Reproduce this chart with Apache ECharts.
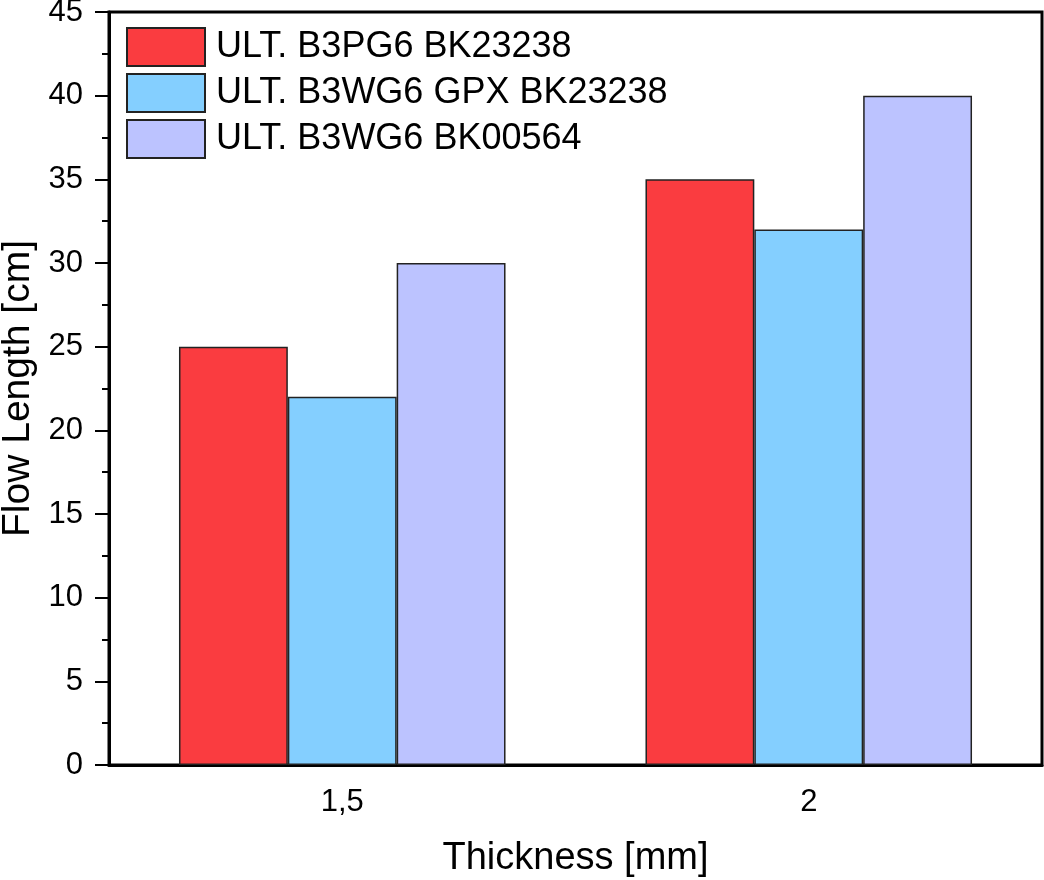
<!DOCTYPE html>
<html>
<head>
<meta charset="utf-8">
<script src="https://cdn.jsdelivr.net/npm/echarts@6/dist/echarts.min.js"></script>
<style>
  html, body { margin: 0; padding: 0; background: #fff; }
  #chart { width: 1044px; height: 880px; }
</style>
</head>
<body>
<div id="chart"></div>
<script>
var categories = ['1,5', '2'];
var seriesNames = ['ULT. B3PG6 BK23238', 'ULT. B3WG6 GPX BK23238', 'ULT. B3WG6 BK00564'];
var valuesB3PG6 = [25, 35];
var valuesB3WG6GPX = [22, 32];
var valuesB3WG6 = [30, 40];
var seriesColors = ['#FA3C40', '#84CFFF', '#BCC3FF'];

var font = 'Liberation Sans, Arial, sans-serif';
var chart = echarts.init(document.getElementById('chart'));

function bar(name, data, color) {
    return {
        name: name,
        type: 'bar',
        xAxisIndex: 0,
        data: data,
        barGap: '0%',
        barCategoryGap: '30%',
        itemStyle: { color: color, borderColor: '#222', borderWidth: 1.5 }
    };
}

chart.setOption({
    animation: false,
    textStyle: { fontFamily: font },
    grid: {
        left: 109, right: 2, top: 12, bottom: 115,
        outerBoundsMode: 'none',
        containLabel: false,
        show: true, borderColor: '#000', borderWidth: 3, backgroundColor: 'transparent'
    },
    legend: {
        left: 126, top: 27,
        padding: 0,
        orient: 'vertical',
        itemWidth: 78, itemHeight: 38, itemGap: 6,
        icon: 'rect',
        textStyle: { fontSize: 36, color: '#000', fontFamily: font, padding: [2, 0, 0, 6] }
    },
    xAxis: [{
        type: 'category',
        data: categories,
        name: 'Thickness [mm]',
        nameLocation: 'middle',
        nameGap: 75,
        nameTextStyle: { fontSize: 38, color: '#000', fontFamily: font },
        axisLine: { lineStyle: { color: '#000', width: 3 } },
        axisTick: { alignWithLabel: true, length: 13, lineStyle: { color: '#000', width: 3 } },
        axisLabel: { fontSize: 31, color: '#000', margin: 22, fontFamily: font }
    }, {
        type: 'category',
        data: categories,
        position: 'bottom',
        axisLine: { show: false },
        axisTick: { alignWithLabel: false, length: 7, lineStyle: { color: '#000', width: 2 } },
        axisLabel: { show: false }
    }],
    yAxis: {
        type: 'value',
        min: 0, max: 45, interval: 5,
        name: 'Flow Length [cm]',
        nameLocation: 'middle',
        nameGap: 70,
        nameTextStyle: { fontSize: 39, color: '#000', fontFamily: font },
        axisLine: { show: true, lineStyle: { color: '#000', width: 3 } },
        axisTick: { show: true, length: 14, lineStyle: { color: '#000', width: 2 } },
        minorTick: { show: true, splitNumber: 2, length: 7, lineStyle: { color: '#000', width: 2 } },
        splitLine: { show: false },
        axisLabel: { fontSize: 31, color: '#000', margin: 26, fontFamily: font }
    },
    series: [
        bar(seriesNames[0], valuesB3PG6, seriesColors[0]),
        bar(seriesNames[1], valuesB3WG6GPX, seriesColors[1]),
        bar(seriesNames[2], valuesB3WG6, seriesColors[2])
    ]
});
</script>
</body>
</html>
